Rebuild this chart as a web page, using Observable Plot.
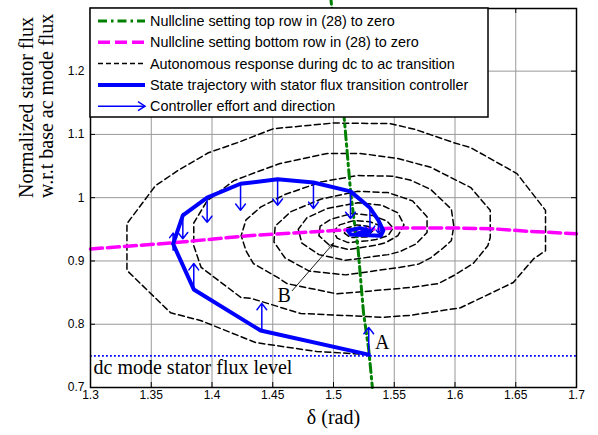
<!DOCTYPE html>
<html><head><meta charset="utf-8">
<script src="https://cdn.jsdelivr.net/npm/d3@7"></script>
<script src="https://cdn.jsdelivr.net/npm/@observablehq/plot@0.6"></script>
<style>
body{margin:0;background:#fff;}
#wrap{position:relative;width:598px;height:435px;overflow:hidden;}
#wrap svg{display:block;}
</style></head><body><div id="wrap"></div>
<script>
// ---- data ----
const xTicks = [1.3, 1.35, 1.4, 1.45, 1.5, 1.55, 1.6, 1.65, 1.7];
const yTicks = [0.7, 0.8, 0.9, 1, 1.1, 1.2];
const dcLevel = 0.75;

// nullcline: top row of (28) set to zero (green dash-dot)
const nullclineTop = [[1.4975,1.32],[1.503,1.22],[1.509,1.122],[1.514,1.011],[1.518,0.948],[1.520,0.924],[1.5247,0.818],[1.529,0.76],[1.532,0.70]];
// nullcline: bottom row of (28) set to zero (magenta dashed)
const nullclineBottom = [[1.30,0.919],[1.37,0.929],[1.43,0.940],[1.50,0.948],[1.55,0.952],[1.60,0.952],[1.63,0.951],[1.66,0.947],[1.70,0.943]];
// autonomous response during dc to ac transition (black dashed spiral)
const autonomous = [
 [1.529,0.752],[1.486,0.757],[1.436,0.771],[1.3905,0.806],[1.366,0.818],[1.330,0.885],[1.330,0.959],[1.3535,1.019],[1.372,1.043],[1.397,1.071],[1.421,1.087],[1.4506,1.109],[1.500,1.118],[1.547,1.117],[1.567,1.108],[1.599,1.087],[1.613,1.079],[1.651,1.038],[1.6745,0.980],[1.6745,0.916],[1.665,0.904],[1.648,0.866],[1.6045,0.826],[1.563,0.814],
 [1.541,0.811],[1.473,0.817],[1.432,0.841],[1.424,0.842],[1.391,0.890],[1.385,0.924],[1.385,0.960],[1.396,0.995],[1.418,1.027],[1.436,1.040],[1.456,1.054],[1.495,1.070],[1.522,1.070],[1.553,1.062],[1.580,1.048],[1.613,1.016],[1.629,0.980],[1.629,0.937],[1.627,0.924],[1.615,0.896],[1.599,0.877],[1.586,0.864],[1.563,0.858],
 [1.503,0.848],[1.462,0.864],[1.454,0.874],[1.434,0.896],[1.428,0.916],[1.424,0.940],[1.428,0.965],[1.440,0.985],[1.460,1.005],[1.490,1.025],[1.520,1.035],[1.548,1.034],[1.563,1.028],[1.580,1.013],[1.597,0.982],[1.599,0.955],[1.597,0.932],[1.590,0.920],[1.580,0.905],[1.570,0.895],[1.555,0.890],
 [1.510,0.878],[1.480,0.884],[1.460,0.905],[1.451,0.930],[1.452,0.955],[1.465,0.978],[1.490,0.998],[1.520,1.010],[1.545,1.008],[1.565,0.995],[1.577,0.970],[1.577,0.945],[1.568,0.927],[1.555,0.915],[1.545,0.910],
 [1.510,0.901],[1.488,0.910],[1.474,0.928],[1.471,0.950],[1.478,0.968],[1.495,0.983],[1.520,0.992],[1.540,0.988],[1.553,0.976],[1.558,0.957],[1.553,0.940],[1.543,0.929],[1.535,0.925],
 [1.512,0.918],[1.496,0.926],[1.488,0.940],[1.489,0.955],[1.498,0.966],[1.515,0.975],[1.532,0.972],[1.544,0.963],[1.549,0.952],[1.545,0.940],[1.535,0.934],[1.528,0.932],
 [1.512,0.929],[1.503,0.936],[1.500,0.947],[1.505,0.957],[1.517,0.964],[1.530,0.962],[1.539,0.955],[1.541,0.948],[1.536,0.940],[1.526,0.938],
 [1.514,0.937],[1.509,0.944],[1.511,0.952],[1.519,0.957],[1.528,0.955],[1.533,0.949],[1.530,0.943],[1.522,0.942],[1.517,0.946],[1.520,0.950]
];
// state trajectory with stator flux transition controller (blue thick)
const trajectory = [[1.529,0.752],[1.440,0.790],[1.385,0.855],[1.368,0.927],[1.376,0.972],[1.396,1.000],[1.4235,1.022],[1.454,1.029],[1.4835,1.024],[1.514,1.010],[1.530,0.984],[1.537,0.964],[1.541,0.948],[1.539,0.940],[1.514,0.942],[1.512,0.948],[1.522,0.952],[1.530,0.947],[1.520,0.944]];
// controller effort arrows
const effortX    = [1.529, 1.441, 1.385, 1.368, 1.376, 1.396, 1.4235, 1.454, 1.4835, 1.514, 1.530, 1.537];
const effortFrom = [0.754, 0.790, 0.855, 0.917, 0.975, 0.998, 1.020, 1.027, 1.022, 1.007, 0.984, 0.962];
const effortTo   = [0.795, 0.833, 0.896, 0.944, 0.935, 0.961, 0.980, 0.988, 0.983, 0.967, 0.945, 0.944];
// annotations
const pointLabels = [{text:"A", x:1.540, y:0.7717}, {text:"B", x:1.4593, y:0.845}];
const pointerB = [{x1:1.466, y1:0.853, x2:1.500, y2:0.928}];
const levelLabel = [{text:"dc mode stator flux level", x:1.3025, y:0.732}];
const xTitle = "δ (rad)";
const yTitle = "Normalized stator flux\nw.r.t base ac mode flux";
const legendLabels = [
  "Nullcline setting top row in (28) to zero",
  "Nullcline setting bottom row in (28) to zero",
  "Autonomous response during dc to ac transition",
  "State trajectory with stator flux transition controller",
  "Controller effort and direction"
];

// ---- layout ----
const W = 598, H = 435, mL = 90, mR = 22, mT = 8, mB = 48;
const innerW = W - mL - mR, innerH = H - mT - mB;
const serif = "'Liberation Serif', 'Times New Roman', serif";
const effort = effortX.map((x, i) => ({x, y1: effortFrom[i], y2: effortTo[i]}));

const chart = Plot.plot({
  width: W, height: H,
  marginLeft: mL, marginRight: mR, marginTop: mT, marginBottom: mB,
  style: {fontFamily: "'Liberation Sans', Arial, sans-serif", fontSize: "12px", color: "#000", background: "#fff", overflow: "visible"},
  x: {domain: [1.3, 1.7]},
  y: {domain: [0.7, 1.299]},
  marks: [
    Plot.ruleX(xTicks.slice(1, -1), {stroke: "#989898", strokeWidth: 1}),
    Plot.ruleY(yTicks.slice(1), {stroke: "#989898", strokeWidth: 1}),
    Plot.axisX({ticks: xTicks, tickSize: 0, tickPadding: 3, tickFormat: d => String(d), label: null}),
    Plot.axisY({ticks: yTicks, tickSize: 0, tickPadding: 6, tickFormat: d => String(d), label: null}),
    Plot.line(autonomous, {x: d => d[0], y: d => d[1], stroke: "#000", strokeWidth: 1.5, strokeDasharray: "6,3.5", curve: "linear"}),
    Plot.line(nullclineBottom, {x: d => d[0], y: d => d[1], stroke: "#ff00ff", strokeWidth: 3.5, strokeDasharray: "12,5"}),
    Plot.line(nullclineTop, {x: d => d[0], y: d => d[1], stroke: "#008000", strokeWidth: 3, strokeDasharray: "9,4,2.5,4", clip: false}),
    Plot.ruleY([dcLevel], {stroke: "#0000ff", strokeWidth: 1.6, strokeDasharray: "1.8,2.2"}),
    Plot.line(trajectory, {x: d => d[0], y: d => d[1], stroke: "#0000ff", strokeWidth: 4, strokeLinejoin: "round"}),
    Plot.arrow(effort, {x: "x", y1: "y1", y2: "y2", stroke: "#0000ff", strokeWidth: 1.5, headLength: 8, headAngle: 75}),
    Plot.arrow(pointerB, {x1: "x1", y1: "y1", x2: "x2", y2: "y2", stroke: "#000", strokeWidth: 0.9, headLength: 9, headAngle: 35}),
    Plot.text(pointLabels, {x: "x", y: "y", text: "text", fontFamily: serif, fontSize: 20, fill: "#000"}),
    Plot.text(levelLabel, {x: "x", y: "y", text: "text", fontFamily: serif, fontSize: 20, textAnchor: "start", fill: "#000"}),
    Plot.text([xTitle], {frameAnchor: "bottom", dy: 36, text: d => d, fontFamily: serif, fontSize: 20, fill: "#000"}),
    Plot.text([yTitle], {frameAnchor: "left", dx: -54, rotate: -90, lineHeight: 1.0, text: d => d, fontFamily: serif, fontSize: 20, fill: "#000"}),
    Plot.tickX(xTicks, {x: d => d, insetTop: innerH - 5, stroke: "#000"}),
    Plot.tickX(xTicks, {x: d => d, insetBottom: innerH - 5, stroke: "#000"}),
    Plot.tickY(yTicks, {y: d => d, insetRight: innerW - 5, stroke: "#000"}),
    Plot.tickY(yTicks, {y: d => d, insetLeft: innerW - 5, stroke: "#000"}),
    Plot.frame({stroke: "#000", strokeWidth: 1.5})
  ]
});
document.getElementById("wrap").appendChild(chart);

// ---- legend box (overlaid inside the axes, top-left) ----
const lg = d3.select("#wrap").append("svg")
  .attr("width", 400).attr("height", 111)
  .style("position", "absolute").style("left", "89px").style("top", "7px");
lg.append("rect").attr("x", 1).attr("y", 1).attr("width", 398).attr("height", 109)
  .attr("fill", "#fff").attr("stroke", "#000").attr("stroke-width", 1.5);
const rowY = i => 14 + i * 21.3;
const styles = [
  {stroke: "#008000", w: 3, dash: "9,4,2.5,4"},
  {stroke: "#ff00ff", w: 3.5, dash: "12,5"},
  {stroke: "#000", w: 1.5, dash: "5,3"},
  {stroke: "#0000ff", w: 4, dash: null},
  {stroke: "#0000ff", w: 1.5, dash: null}
];
legendLabels.forEach((t, i) => {
  const s = styles[i], y = rowY(i);
  const ln = lg.append("line").attr("x1", 9).attr("x2", 56).attr("y1", y).attr("y2", y)
    .attr("stroke", s.stroke).attr("stroke-width", s.w);
  if (s.dash) ln.attr("stroke-dasharray", s.dash);
  if (i === 4) {
    lg.append("path").attr("d", `M${49},${y - 4.5}L${56},${y}L${49},${y + 4.5}`)
      .attr("fill", "none").attr("stroke", s.stroke).attr("stroke-width", 1.5);
  }
  lg.append("text").attr("x", 61).attr("y", y).attr("dy", "0.35em")
    .attr("font-family", "'Liberation Sans', Arial, sans-serif").attr("font-size", 14.4)
    .attr("fill", "#000").text(t);
});
</script>
</body></html>
